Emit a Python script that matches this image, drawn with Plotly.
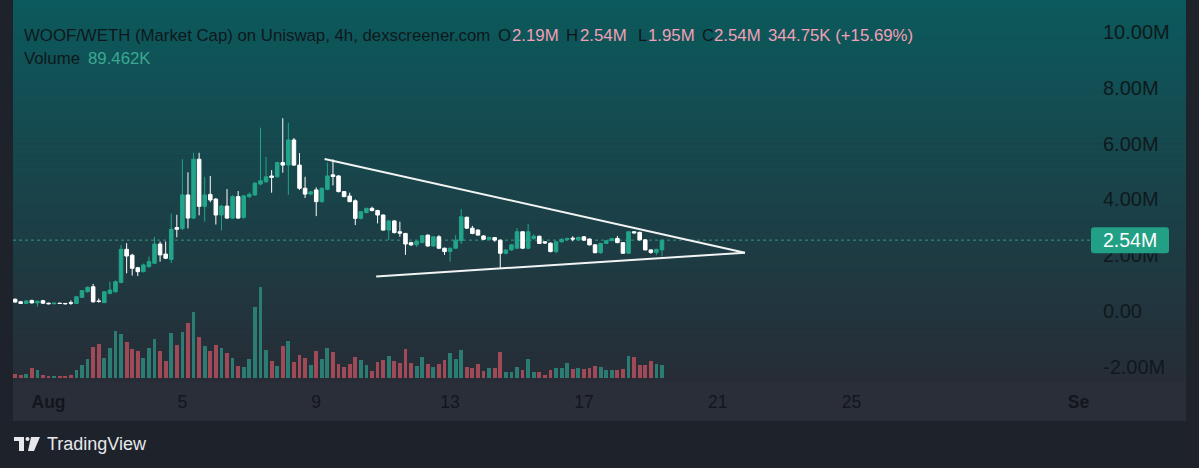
import plotly.graph_objects as go
import pandas as pd

# ---------------- data (market cap in millions, volume in thousands) ----------------
candle_start = "2024-07-31 00:00"
open_ = [0.42, 0.33, 0.27, 0.38, 0.29, 0.37, 0.28, 0.26, 0.28, 0.27,
         0.30, 0.27, 0.49, 0.69, 0.87, 0.36, 0.30, 0.63, 0.69, 1.02,
         2.21, 2.00, 1.55, 1.41, 1.59, 1.71, 2.40, 2.04, 1.85, 2.99,
         2.96, 4.16, 3.33, 5.44, 3.75, 4.18, 4.01, 3.44, 3.76, 3.33,
         4.10, 3.36, 4.10, 4.16, 4.55, 4.63, 4.84, 4.81, 5.32, 5.23,
         6.13, 5.23, 4.40, 4.19, 4.34, 3.92, 4.36, 4.88, 4.84, 4.28,
         4.12, 3.95, 3.32, 3.53, 3.68, 3.60, 3.44, 2.90, 3.23, 2.84,
         2.78, 2.45, 2.37, 2.45, 2.72, 2.33, 2.66, 2.25, 2.13, 2.25,
         2.52, 3.36, 2.97, 2.90, 2.69, 2.57, 2.63, 2.54, 2.07, 2.19,
         2.25, 2.84, 2.25, 2.60, 2.68, 2.48, 2.43, 2.13, 2.48, 2.56,
         2.61, 2.55, 2.66, 2.58, 2.37, 2.09, 2.42, 2.52, 2.60, 2.45,
         2.07, 2.84, 2.82, 2.55, 2.19, 2.10, 2.19]
high = [0.45, 0.36, 0.38, 0.40, 0.37, 0.40, 0.30, 0.30, 0.29, 0.29,
        0.38, 0.52, 0.75, 0.88, 0.97, 0.45, 0.70, 1.05, 1.10, 2.37,
        2.43, 2.05, 1.58, 1.70, 1.95, 2.66, 2.49, 2.49, 3.49, 3.45,
        5.44, 4.97, 5.67, 5.67, 4.81, 4.84, 4.05, 3.80, 4.37, 4.15,
        4.30, 4.15, 4.25, 4.62, 6.57, 5.53, 5.05, 5.35, 6.91, 6.75,
        6.20, 5.66, 4.81, 4.30, 4.43, 4.42, 5.32, 5.44, 4.87, 4.30,
        4.24, 4.00, 3.58, 3.70, 3.74, 3.63, 3.46, 3.25, 3.25, 3.20,
        2.80, 2.48, 2.52, 2.72, 2.74, 2.68, 2.72, 2.27, 2.27, 2.72,
        3.65, 3.38, 3.05, 2.93, 2.72, 2.66, 2.65, 2.56, 2.20, 2.40,
        2.97, 2.86, 3.12, 2.75, 2.70, 2.50, 2.46, 2.50, 2.60, 2.63,
        2.68, 2.66, 2.68, 2.60, 2.40, 2.44, 2.54, 2.62, 2.69, 2.47,
        2.86, 2.86, 2.84, 2.57, 2.21, 2.23, 2.54]
low = [0.30, 0.25, 0.25, 0.27, 0.16, 0.25, 0.24, 0.24, 0.25, 0.24,
       0.22, 0.26, 0.47, 0.66, 0.30, 0.30, 0.28, 0.60, 0.66, 1.00,
       1.35, 1.27, 1.25, 1.38, 1.55, 1.68, 1.77, 1.86, 1.72, 2.64,
       2.90, 2.96, 3.30, 3.43, 3.20, 3.90, 3.10, 2.89, 3.30, 3.30,
       3.30, 3.30, 4.05, 4.12, 4.50, 4.60, 4.24, 4.78, 4.96, 4.16,
       5.20, 4.34, 4.05, 4.15, 3.40, 3.88, 4.33, 4.50, 4.25, 4.08,
       3.90, 3.08, 3.28, 3.50, 3.57, 3.14, 2.88, 2.54, 2.78, 2.66,
       2.01, 2.33, 2.30, 2.43, 2.30, 2.30, 2.22, 2.01, 1.77, 2.22,
       2.40, 2.95, 2.75, 2.70, 2.55, 2.55, 2.48, 1.53, 2.03, 2.15,
       2.22, 2.22, 2.22, 2.55, 2.40, 2.40, 2.10, 2.07, 2.45, 2.52,
       2.50, 2.52, 2.52, 2.35, 2.07, 2.05, 2.40, 2.50, 2.43, 2.05,
       2.05, 2.78, 2.52, 2.17, 2.05, 2.00, 1.95]
close = [0.32, 0.27, 0.36, 0.29, 0.35, 0.28, 0.26, 0.28, 0.27, 0.26,
         0.28, 0.51, 0.73, 0.85, 0.33, 0.34, 0.69, 0.75, 1.05, 2.21,
         1.97, 1.53, 1.41, 1.65, 1.77, 2.40, 2.01, 1.89, 2.93, 2.93,
         4.16, 3.33, 5.44, 3.75, 4.16, 3.98, 3.44, 3.76, 3.33, 4.10,
         3.33, 4.13, 4.18, 4.58, 4.67, 4.81, 4.79, 5.32, 5.23, 6.13,
         5.23, 4.40, 4.19, 4.27, 3.92, 4.40, 4.84, 4.82, 4.28, 4.10,
         3.92, 3.32, 3.56, 3.68, 3.60, 3.44, 2.90, 3.23, 2.81, 2.79,
         2.40, 2.37, 2.50, 2.70, 2.33, 2.66, 2.25, 2.13, 2.25, 2.54,
         3.38, 2.97, 2.78, 2.72, 2.57, 2.64, 2.54, 2.07, 2.19, 2.37,
         2.84, 2.25, 2.84, 2.68, 2.42, 2.44, 2.13, 2.48, 2.57, 2.60,
         2.58, 2.64, 2.54, 2.37, 2.09, 2.42, 2.52, 2.60, 2.45, 2.07,
         2.84, 2.80, 2.55, 2.19, 2.10, 2.21, 2.54]
volume = [28, 16, 28, 68, 56, 19, 14, 14, 14, 12,
          21, 56, 87, 127, 216, 239, 134, 209, 326, 305,
          251, 204, 185, 134, 209, 270, 185, 115, 310, 232,
          319, 387, 458, 282, 220, 185, 232, 211, 174, 134,
          84, 73, 127, 493, 639, 197, 118, 84, 223, 258,
          108, 155, 136, 87, 185, 132, 206, 183, 92, 77,
          94, 146, 122, 89, 49, 108, 120, 150, 115, 99,
          204, 99, 80, 146, 92, 73, 96, 122, 174, 129,
          192, 77, 68, 96, 44, 68, 68, 181, 37, 37,
          75, 56, 127, 40, 37, 21, 51, 68, 68, 99,
          61, 65, 58, 70, 84, 77, 56, 56, 54, 61,
          150, 143, 89, 87, 115, 92, 89.462]

tick_dates = ["2024-08-01", "2024-08-05", "2024-08-09", "2024-08-13",
              "2024-08-17", "2024-08-21", "2024-08-25", "2024-09-01"]
tick_labels = ["<b>Aug</b>", "5", "9", "13", "17", "21", "25", "<b>Se</b>\u00a0\u00a0\u00a0"]
price_ticks = [-2, 0, 2, 4, 6, 8, 10]
price_tick_labels = ["-2.00M", "0.00", "2.00M", "4.00M", "6.00M", "8.00M", "10.00M"]

tri_upper_x = ["2024-08-09 06:00", "2024-08-21 19:30"]
tri_upper_y = [5.45, 2.09]
tri_lower_x = ["2024-08-10 19:00", "2024-08-21 19:30"]
tri_lower_y = [1.24, 2.09]

header_main = "WOOF/WETH (Market Cap) on Uniswap, 4h, dexscreener.com"
header_items = [("O", "2.19M"), ("H", "2.54M"), ("L", "1.95M"), ("C", "2.54M")]
header_change = "344.75K (+15.69%)"
volume_label = "Volume"
volume_value = "89.462K"

# ---------------- layout geometry ----------------
W, H = 1199, 468
ML, MR, MT, MB = 13, 109, 0, 86
PW = W - ML - MR
PH = H - MT - MB


def pxx(x):
    return (x - ML) / PW


def pxy(y):
    return 1 - (y - MT) / PH


times = pd.date_range(candle_start, periods=len(close), freq="4h")

UP = "#22a58a"
DOWN = "#ffffff"
VOL_UP = "#2b7d73"
VOL_DOWN = "#a04a58"
DARK_TXT = "#0e181b"
PINK = "#f2a0b4"
FONT = "Liberation Sans"

vol_colors = [VOL_UP if c >= o else VOL_DOWN for o, c in zip(open_, close)]

fig = go.Figure()

fig.add_trace(go.Bar(
    x=times, y=volume, marker_color=vol_colors, marker_line_width=0,
    width=4 * 3600 * 1000 * 0.68, yaxis="y", hoverinfo="skip", showlegend=False,
))

fig.add_trace(go.Candlestick(
    x=times, open=open_, high=high, low=low, close=close, yaxis="y2",
    increasing=dict(line=dict(color=UP, width=1), fillcolor=UP),
    decreasing=dict(line=dict(color=DOWN, width=1), fillcolor=DOWN),
    whiskerwidth=0, showlegend=False, hoverinfo="skip",
))

for tx, ty in [(tri_upper_x, tri_upper_y), (tri_lower_x, tri_lower_y)]:
    fig.add_trace(go.Scatter(
        x=tx, y=ty, mode="lines", yaxis="y2",
        line=dict(color="#f2f4f4", width=2), showlegend=False, hoverinfo="skip",
    ))

# ---------------- background gradient ----------------
shapes = []
top = (11, 90, 93)
bot = (39, 44, 54)
N = 64
band_h = 382 / N
for k in range(N):
    t = (k + 0.5) / N
    col = tuple(round(top[j] + (bot[j] - top[j]) * t) for j in range(3))
    y0 = k * band_h
    y1 = (k + 1) * band_h + 0.6
    shapes.append(dict(type="rect", xref="paper", yref="paper",
                       x0=pxx(13), x1=pxx(1186), y0=pxy(y1), y1=pxy(y0),
                       fillcolor="rgb(%d,%d,%d)" % col, line=dict(width=0), layer="below"))
shapes.append(dict(type="rect", xref="paper", yref="paper",
                   x0=pxx(13), x1=pxx(1186), y0=pxy(421), y1=pxy(382),
                   fillcolor="#2a2e39", line=dict(width=0), layer="below"))

last_close = close[-1]
# dotted last-price line
shapes.append(dict(type="line", xref="paper", yref="y2", x0=0, x1=1.0,
                   y0=last_close, y1=last_close,
                   line=dict(color="rgba(60,165,145,0.85)", width=1, dash="dot"), layer="below"))
# price label box
shapes.append(dict(type="path", xref="paper", yref="y2", xsizemode="pixel", ysizemode="pixel",
                   xanchor=1.0, yanchor=last_close,
                   path="M4,-13 L76,-13 Q79,-13 79,-10 L79,10 Q79,13 76,13 L4,13 Q1,13 1,10 "
                        "L1,-10 Q1,-13 4,-13 Z",
                   fillcolor="#21a085", line=dict(width=0), layer="above"))
# TradingView logo glyph
shapes.append(dict(type="path", xref="paper", yref="paper",
                   path="M%f,%f L%f,%f L%f,%f L%f,%f L%f,%f L%f,%f Z" % (
                       pxx(14), pxy(437), pxx(24), pxy(437), pxx(24), pxy(451),
                       pxx(19), pxy(451), pxx(19), pxy(441), pxx(14), pxy(441)),
                   fillcolor="#e6e8ec", line=dict(width=0)))
shapes.append(dict(type="circle", xref="paper", yref="paper",
                   x0=pxx(25.5), x1=pxx(29.5), y0=pxy(441), y1=pxy(437),
                   fillcolor="#e6e8ec", line=dict(width=0)))
shapes.append(dict(type="path", xref="paper", yref="paper",
                   path="M%f,%f L%f,%f L%f,%f L%f,%f Z" % (
                       pxx(31), pxy(437), pxx(40), pxy(437), pxx(34), pxy(451), pxx(28), pxy(451)),
                   fillcolor="#e6e8ec", line=dict(width=0)))

# ---------------- annotations ----------------
ann = []


def txt(x, y, s, color, size=16.8, anchor="left"):
    ann.append(dict(x=pxx(x), y=pxy(y), xref="paper", yref="paper", text=s, showarrow=False,
                    xanchor=anchor, yanchor="middle", font=dict(family=FONT, size=size, color=color)))


txt(22, 36, header_main, DARK_TXT)
item_x = [(496, 510), (564, 578), (636, 646), (700, 712)]
for (lab, val), (lx, vx) in zip(header_items, item_x):
    txt(lx, 36, lab, DARK_TXT)
    txt(vx, 36, val, PINK)
txt(766, 36, header_change, PINK)
txt(22, 58, volume_label, DARK_TXT)
txt(86, 58, volume_value, "#3aa893")
txt(45, 444, "TradingView", "#e6e8ec", size=18)

ann.append(dict(x=1.0, xshift=40, y=last_close, xref="paper", yref="y2",
                text="%.2fM" % last_close, showarrow=False, xanchor="center", yanchor="middle",
                font=dict(family=FONT, size=19.5, color="#ffffff")))

vol_lo = -4.5 * 7.04
vol_hi = 377.5 * 7.04

fig.update_layout(
    width=W, height=H, autosize=False,
    margin=dict(l=ML, r=MR, t=MT, b=MB, pad=0),
    paper_bgcolor="#1e222b", plot_bgcolor="rgba(0,0,0,0)",
    showlegend=False, hovermode=False, bargap=0,
    boxgap=0.36, boxgroupgap=0,
    shapes=shapes, annotations=ann,
    xaxis=dict(type="date", range=["2024-07-30 22:30", "2024-09-01 03:00"],
               tickvals=tick_dates, ticktext=tick_labels, ticks="",
               showgrid=False, zeroline=False, showline=False,
               tickfont=dict(family=FONT, size=17.5, color="#12161d"),
               ticklabelstandoff=7, rangeslider=dict(visible=False), fixedrange=True),
    yaxis=dict(range=[vol_lo, vol_hi], visible=False, fixedrange=True),
    yaxis2=dict(overlaying="y", side="right", range=[-2.545, 11.147],
                tickvals=price_ticks, ticktext=price_tick_labels, ticks="",
                showgrid=False, zeroline=False, showline=False,
                tickfont=dict(family=FONT, size=20, color="#0f191c"),
                ticklabelstandoff=12, fixedrange=True),
)

fig.write_html("out.html", config=dict(displayModeBar=False),
               post_script="document.body.style.margin='0px';document.body.style.background='#1e222b';")
